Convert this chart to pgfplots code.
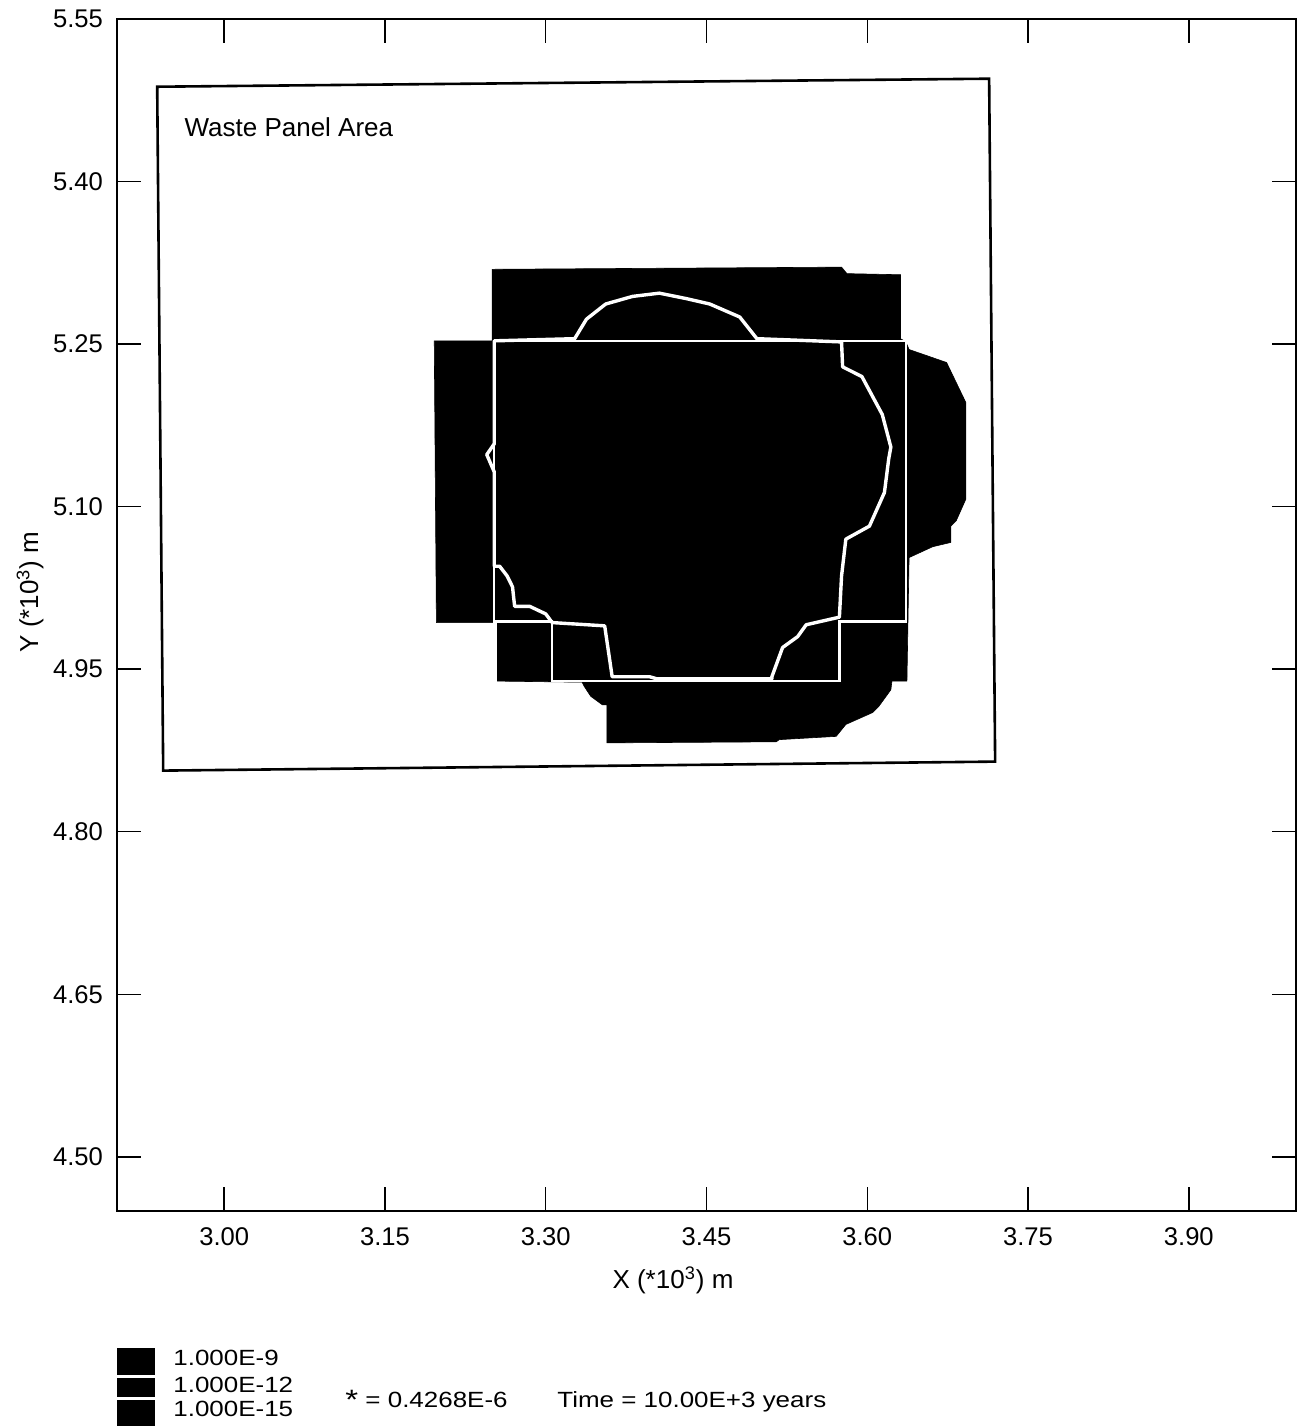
\documentclass[border=0pt]{standalone}
\usepackage{pgfplots}
\pgfplotsset{compat=1.18}
\usepackage{fontspec}
\setmainfont{Liberation Sans}
\newfontfamily\legfont[FakeStretch=1.18]{Liberation Sans}

\begin{document}
\begin{tikzpicture}
\begin{axis}[
  scale only axis, width=589.5pt, height=596pt,
  xmin=2.9, xmax=4.0, ymin=4.45, ymax=5.55,
  axis line style={line width=1.4pt},
  xtick={3,3.15,3.3,3.45,3.6,3.75,3.9},
  xticklabels={3.00,3.15,3.30,3.45,3.60,3.75,3.90},
  ytick={4.5,4.65,4.8,4.95,5.1,5.25,5.4,5.55},
  yticklabels={4.50,4.65,4.80,4.95,5.10,5.25,5.40,5.55},
  tick align=inside, xtick pos=both, ytick pos=both,
  xticklabel pos=bottom, yticklabel pos=left,
  major tick length=12pt,
  major tick style={line width=0.7pt, black},
  tick label style={font=\fontsize{12.8}{15}\selectfont},
  xticklabel style={yshift=-5pt},
  yticklabel style={xshift=-3.5pt},
  clip=false,
  /pgf/number format/assume math mode=true,
]
% concentration region (black)
\addplot[fill=black, draw=black, line width=0.3pt, mark=none] coordinates {
(3.250,5.319) (3.576,5.321) (3.581,5.315) (3.631,5.314) (3.631,5.255) (3.636,5.252)
(3.639,5.245) (3.674,5.233) (3.692,5.196) (3.692,5.107) (3.683,5.087) (3.678,5.082)
(3.678,5.067) (3.661,5.063) (3.639,5.053) (3.637,4.939) (3.623,4.939) (3.622,4.931)
(3.611,4.916) (3.605,4.910) (3.580,4.899) (3.571,4.888) (3.518,4.885) (3.515,4.883)
(3.357,4.882) (3.357,4.917) (3.353,4.917) (3.342,4.925) (3.336,4.934) (3.334,4.938)
(3.255,4.939) (3.255,4.993) (3.198,4.993) (3.196,5.253) (3.250,5.253)
} -- cycle;
% panel outline (white)
\addplot[white, line width=1.1pt, mark=none] coordinates {
(3.252,5.253) (3.636,5.253) (3.636,4.994) (3.574,4.994) (3.574,4.939)
(3.306,4.939) (3.306,4.994) (3.252,4.994)
} -- cycle;
% 1.000E-12 contour (white)
\addplot[white, line width=1.7pt, line join=round, mark=none] coordinates {
(3.327,5.255) (3.338,5.273) (3.356,5.287) (3.381,5.294) (3.406,5.297) (3.431,5.292)
(3.453,5.287) (3.481,5.275) (3.497,5.255) (3.576,5.252) (3.577,5.229) (3.595,5.220)
(3.614,5.185) (3.622,5.155) (3.620,5.144) (3.616,5.113) (3.602,5.082) (3.580,5.070)
(3.576,5.036) (3.574,4.998) (3.543,4.991) (3.535,4.980) (3.521,4.970) (3.511,4.943)
(3.511,4.941) (3.404,4.941) (3.397,4.943) (3.362,4.943) (3.355,4.990) (3.306,4.993)
(3.300,5.001) (3.285,5.008) (3.271,5.008) (3.269,5.026) (3.264,5.036) (3.257,5.045)
(3.252,5.045) (3.252,5.132) (3.245,5.148) (3.252,5.158) (3.252,5.253)
} -- cycle;
% waste panel area rectangle
\addplot[black, line width=1.3pt, mark=none] coordinates {
(2.9375,5.4875) (3.7137,5.4949) (3.7193,4.8647) (2.9431,4.8564)
} -- cycle;
\node[anchor=west, inner sep=0pt, font=\fontsize{13}{15}\selectfont] at (axis cs:2.9627,5.4505) {Waste Panel Area};
\coordinate (SW) at (rel axis cs:0,0);
\end{axis}
\begin{scope}[shift={(SW)}, xshift=-58.5pt, yshift=605.5pt, x=0.5pt, y=-0.5pt]
\fill[black] (117,1348) rectangle (155,1426);
\draw[white, line width=1.5pt] (117,1376.7) -- (155,1376.7);
\draw[white, line width=1.5pt] (117,1398.5) -- (155,1398.5);
\node[anchor=base west, inner sep=0pt, font={\legfont\fontsize{11}{13}\selectfont}] at (173,1365) {1.000E-9};
\node[anchor=base west, inner sep=0pt, font={\legfont\fontsize{11}{13}\selectfont}] at (173,1392) {1.000E-12};
\node[anchor=base west, inner sep=0pt, font={\legfont\fontsize{11}{13}\selectfont}] at (173,1416) {1.000E-15};
\node[anchor=base west, inner sep=0pt, font={\legfont\fontsize{11}{13}\selectfont}] at (345,1407) {\raisebox{-0.25ex}{\fontsize{14}{14}\selectfont *} = 0.4268E-6};
\node[anchor=base west, inner sep=0pt, font={\legfont\fontsize{11}{13}\selectfont}] at (557,1407) {Time = 10.00E+3 years};
\node[anchor=center, rotate=90, inner sep=0pt, font=\fontsize{13}{15}\selectfont] at (30,592) {Y (*10\textsuperscript{3}) m};
\node[anchor=center, inner sep=0pt, font=\fontsize{13}{15}\selectfont] at (673,1280) {X (*10\textsuperscript{3}) m};
\pgfresetboundingbox
\path[use as bounding box] (0,0) rectangle (1301,1426);
\end{scope}
\end{tikzpicture}
\end{document}
